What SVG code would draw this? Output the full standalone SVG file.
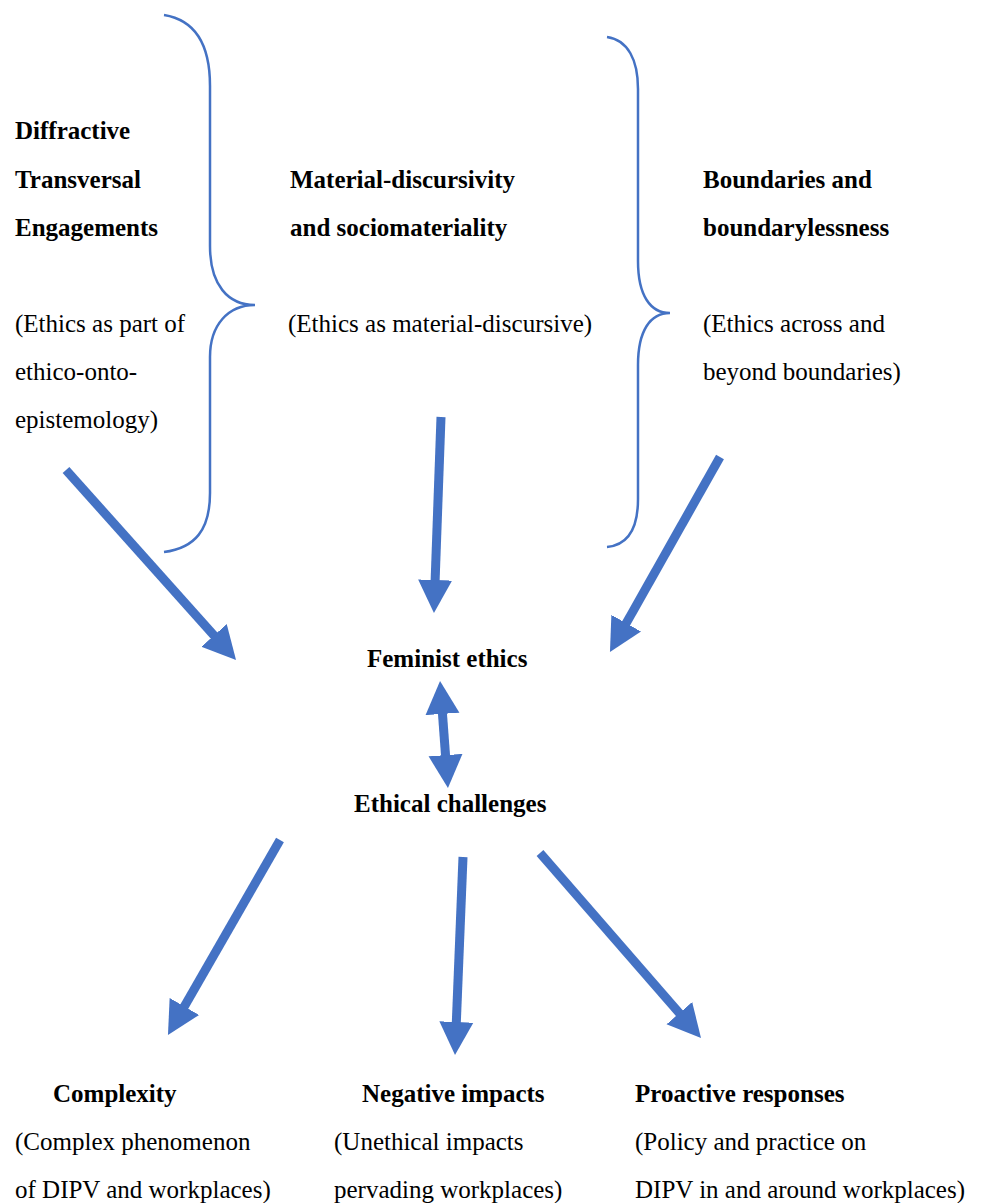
<svg xmlns="http://www.w3.org/2000/svg" width="982" height="1203" viewBox="0 0 982 1203">
<style>
text{font-family:"Liberation Serif","Times New Roman",serif;font-size:25px;fill:#000}
.b{font-weight:bold}
.brace{fill:none;stroke:#4472C4;stroke-width:2.5}
.arr{stroke:#4472C4;stroke-width:9;fill:none}
</style>
<defs>
<marker id="ah" markerUnits="userSpaceOnUse" markerWidth="34" markerHeight="36" viewBox="0 0 34 36" refX="1" refY="18" orient="auto-start-reverse">
<path d="M0,1 L33,18 L0,35 z" fill="#4472C4"/>
</marker>
</defs>
<rect width="982" height="1203" fill="#fff"/>
<g id="braces">
<path class="brace" d="M164,15 C195,20 210,45 210,86 L210,246 C210,285 228,305 255,305 C228,305 210,325 210,357 L210,493 C210,530 195,548 164,552"/>
<path class="brace" d="M607,37 C628,40 638,60 638,89 L638,261 C638,295 650,313 670,313 C650,313 638,331 638,365 L638,499 C638,528 628,545 607,547"/>
</g>
<g id="connectors">
<line class="arr" x1="66" y1="470" x2="214.7" y2="636.2" marker-end="url(#ah)"/>
<line class="arr" x1="441" y1="417" x2="435.1" y2="581" marker-end="url(#ah)"/>
<line class="arr" x1="720" y1="457" x2="625.7" y2="624.1" marker-end="url(#ah)"/>
<line class="arr" x1="442.4" y1="712.9" x2="445.6" y2="756.1" marker-start="url(#ah)" marker-end="url(#ah)"/>
<line class="arr" x1="280" y1="840" x2="183.9" y2="1007.3" marker-end="url(#ah)"/>
<line class="arr" x1="463" y1="857" x2="456.3" y2="1023" marker-end="url(#ah)"/>
<line class="arr" x1="540" y1="853" x2="680" y2="1013.9" marker-end="url(#ah)"/>
</g>
<g id="diffractive">
<text class="b" x="15" y="139">Diffractive</text>
<text class="b" x="15" y="188">Transversal</text>
<text class="b" x="15" y="236">Engagements</text>
<text x="15" y="332">(Ethics as part of</text>
<text x="15" y="380">ethico-onto-</text>
<text x="15" y="428">epistemology)</text>
</g>
<g id="material">
<text class="b" x="290" y="188">Material-discursivity</text>
<text class="b" x="290" y="236">and sociomateriality</text>
<text x="288" y="332">(Ethics as material-discursive)</text>
</g>
<g id="boundaries">
<text class="b" x="703" y="188">Boundaries and</text>
<text class="b" x="703" y="236">boundarylessness</text>
<text x="703" y="332">(Ethics across and</text>
<text x="703" y="380">beyond boundaries)</text>
</g>
<g id="feminist">
<text class="b" x="367" y="667">Feminist ethics</text>
</g>
<g id="challenges">
<text class="b" x="354" y="812">Ethical challenges</text>
</g>
<g id="complexity">
<text class="b" x="53" y="1102">Complexity</text>
<text x="15" y="1150">(Complex phenomenon</text>
<text x="15" y="1198">of DIPV and workplaces)</text>
</g>
<g id="negative">
<text class="b" x="362" y="1102">Negative impacts</text>
<text x="334" y="1150">(Unethical impacts</text>
<text x="334" y="1198">pervading workplaces)</text>
</g>
<g id="proactive">
<text class="b" x="635" y="1102">Proactive responses</text>
<text x="635" y="1150">(Policy and practice on</text>
<text x="635" y="1198">DIPV in and around workplaces)</text>
</g>
</svg>
